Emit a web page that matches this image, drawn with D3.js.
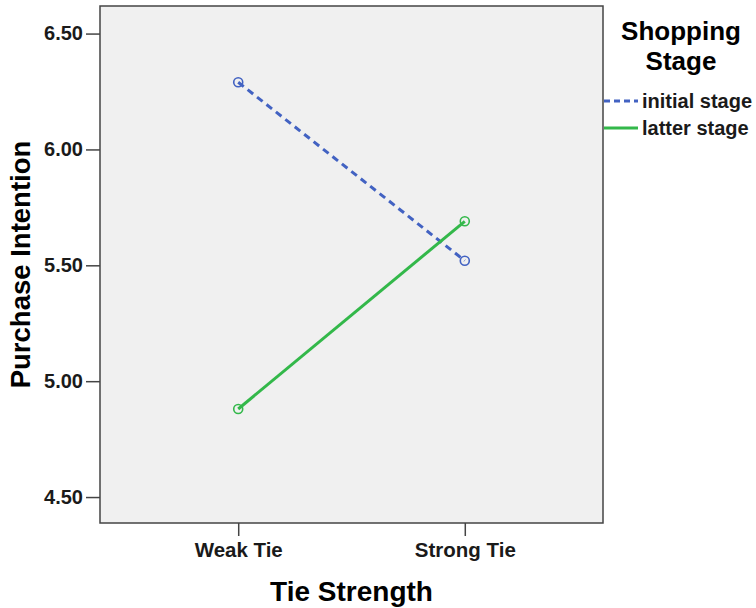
<!DOCTYPE html>
<html><head><meta charset="utf-8">
<script src="https://cdn.jsdelivr.net/npm/d3@7"></script>
<style>body{margin:0;background:#fff}</style>
</head><body>
<svg id="c" width="756" height="608"></svg>
<script>
const categories = ["Weak Tie", "Strong Tie"];
const seriesNames = ["initial stage", "latter stage"];
const initialStage = [6.29, 5.52];
const latterStage = [4.88, 5.69];
const yTicks = [4.5, 5.0, 5.5, 6.0, 6.5];
const legendTitle = ["Shopping", "Stage"];
const xTitle = "Tie Strength";
const yTitle = "Purchase Intention";

const svg = d3.select("#c");
const L = 100, R = 603, T = 6, B = 523;
const font = "Liberation Sans, Arial, sans-serif";
const x = d3.scalePoint().domain(categories).range([L, R]).padding(0.61);
const y = d3.scaleLinear().domain([4.388, 6.619]).range([B, T]);

svg.append("rect").attr("x", L).attr("y", T).attr("width", R - L).attr("height", B - T)
  .attr("fill", "#f0f0f0").attr("stroke", "none");

const series = [
  {name: seriesNames[0], values: initialStage, color: "#4262c2", dash: "7,5"},
  {name: seriesNames[1], values: latterStage, color: "#33b84a", dash: null}
];

const line = d3.line().x((d, i) => x(categories[i])).y(d => y(d));
series.forEach(s => {
  svg.append("path").datum(s.values).attr("d", line)
    .attr("fill", "none").attr("stroke", s.color).attr("stroke-width", 3)
    .attr("stroke-dasharray", s.dash);
  svg.selectAll(null).data(s.values).enter().append("circle")
    .attr("cx", (d, i) => x(categories[i])).attr("cy", d => y(d)).attr("r", 4.5)
    .attr("fill", "none").attr("stroke", s.color).attr("stroke-width", 1.6);
});

// frame
svg.append("rect").attr("x", L).attr("y", T).attr("width", R - L).attr("height", B - T)
  .attr("fill", "none").attr("stroke", "#444").attr("stroke-width", 1.5);

const yAxis = svg.append("g").attr("transform", `translate(${L},0)`)
  .call(d3.axisLeft(y).tickValues(yTicks).tickFormat(d3.format(".2f")).tickSize(14).tickPadding(3));
yAxis.select(".domain").remove();
yAxis.selectAll("line").attr("stroke", "#444").attr("stroke-width", 1.5);
yAxis.selectAll("text").attr("font-family", font).attr("font-size", 20).attr("font-weight", "bold").attr("fill", "#1a1a1a");

const xAxis = svg.append("g").attr("transform", `translate(0,${B})`)
  .call(d3.axisBottom(x).tickSize(13).tickPadding(6));
xAxis.select(".domain").remove();
xAxis.selectAll("line").attr("stroke", "#444").attr("stroke-width", 1.5);
xAxis.selectAll("text").attr("font-family", font).attr("font-size", 20.5).attr("font-weight", "bold").attr("fill", "#1a1a1a");

svg.append("text").attr("x", (L + R) / 2).attr("y", 601).attr("text-anchor", "middle")
  .attr("font-family", font).attr("font-size", 28).attr("font-weight", "bold").text(xTitle);
svg.append("text").attr("transform", `translate(30,${(T + B) / 2}) rotate(-90)`)
  .attr("text-anchor", "middle")
  .attr("font-family", font).attr("font-size", 27.5).attr("font-weight", "bold").text(yTitle);

// legend
const lg = svg.append("g");
lg.selectAll(null).data(legendTitle).enter().append("text")
  .attr("x", 681).attr("y", (d, i) => 40 + i * 29.5).attr("text-anchor", "middle")
  .attr("font-family", font).attr("font-size", 26).attr("font-weight", "bold").text(d => d);
series.forEach((s, i) => {
  const yy = 101 + i * 27;
  lg.append("line").attr("x1", 604).attr("x2", 638).attr("y1", yy).attr("y2", yy)
    .attr("stroke", s.color).attr("stroke-width", 3).attr("stroke-dasharray", s.dash ? "6,4" : null);
  lg.append("text").attr("x", 642).attr("y", yy + 7).attr("font-family", font)
    .attr("font-size", 20).attr("font-weight", "bold").attr("fill", "#1a1a1a").text(s.name);
});
</script>
</body></html>
